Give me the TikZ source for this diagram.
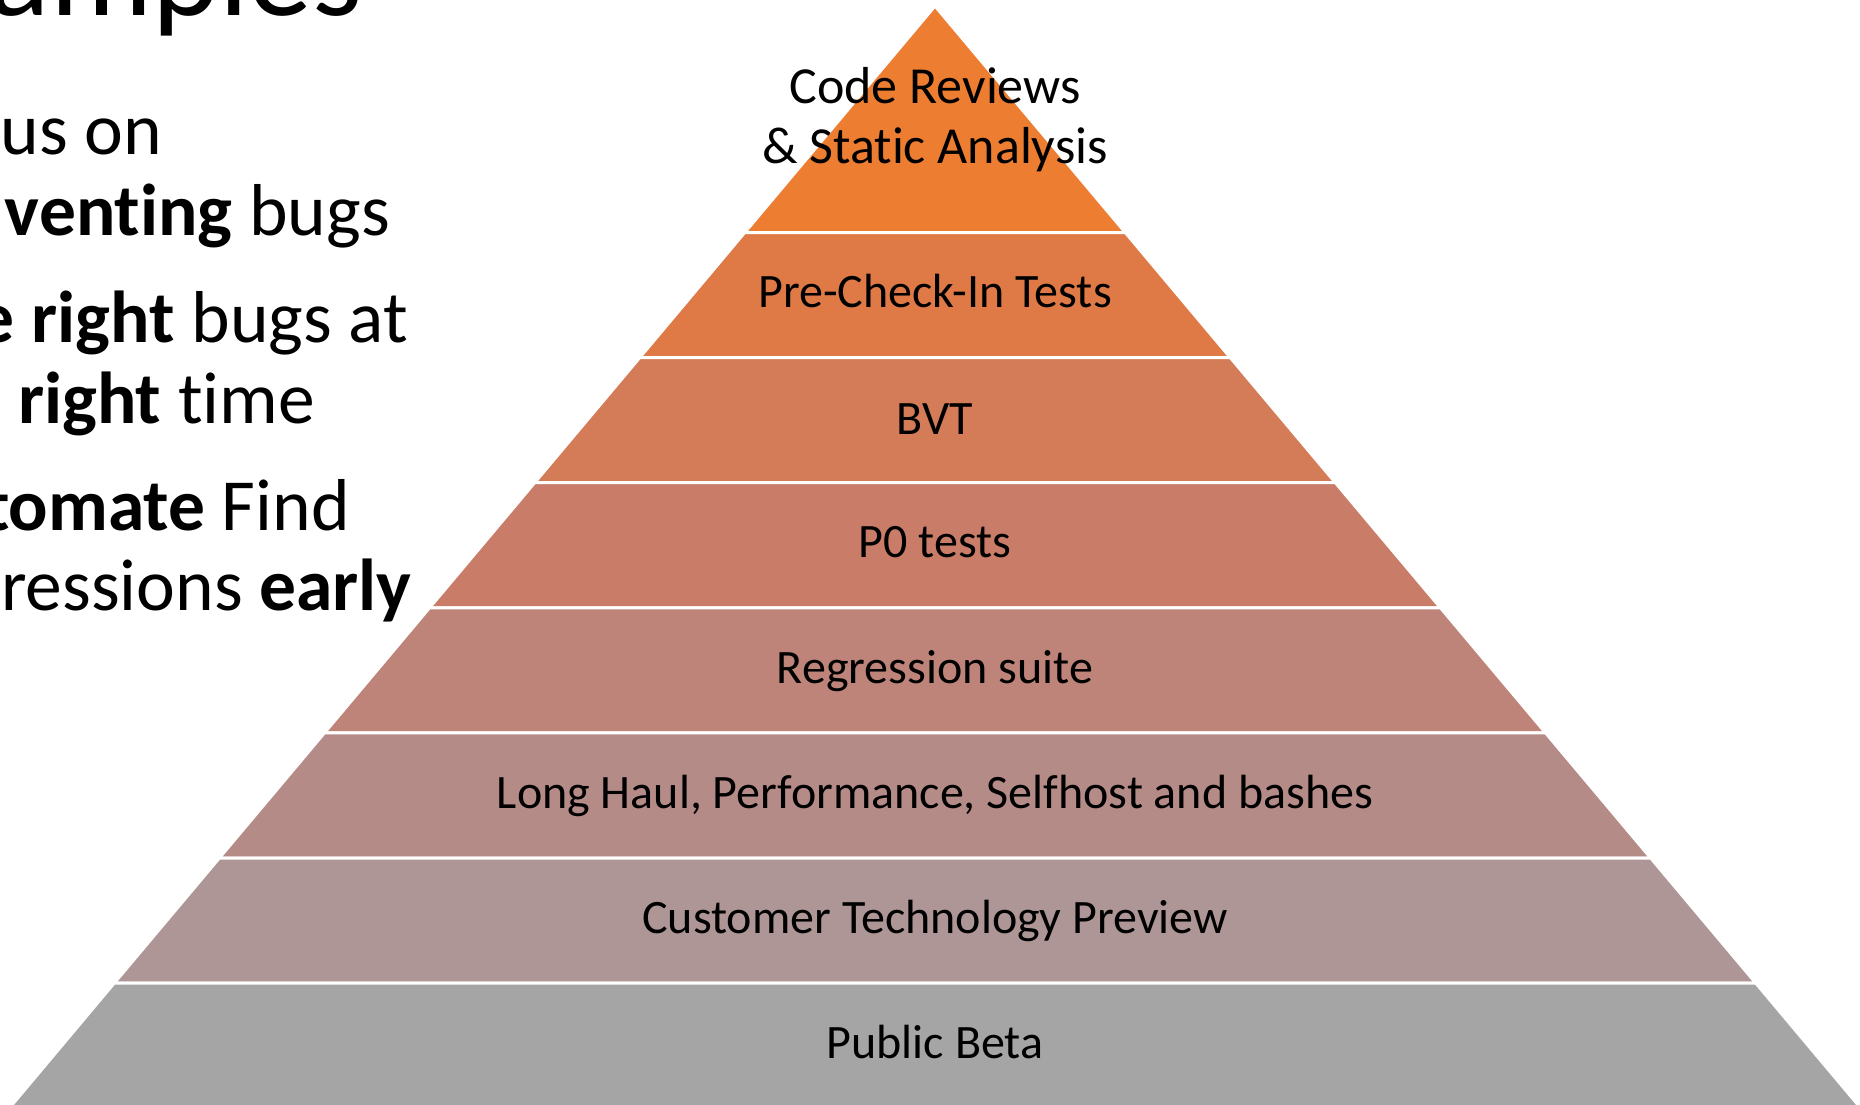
\documentclass[tikz,border=0pt]{standalone}
\usepackage{fontspec}
\setmainfont{Carlito}[Ligatures=NoCommon, RawFeature={-calt}]
\definecolor{lyrA}{HTML}{ED7D31}
\definecolor{lyrB}{HTML}{DF7A47}
\definecolor{lyrC}{HTML}{D47B58}
\definecolor{lyrD}{HTML}{C97D69}
\definecolor{lyrE}{HTML}{BE8479}
\definecolor{lyrF}{HTML}{B58B88}
\definecolor{lyrG}{HTML}{AD9695}
\definecolor{lyrH}{HTML}{A5A5A5}
\tikzset{
    layer/.style={draw=white, line width=3pt, line join=miter},
    layertext/.style={font=\fontsize{48}{60}\selectfont, inner sep=0pt, anchor=base, align=center},
    toptext/.style={layertext, font=\fontsize{52}{60}\selectfont},
    bullet/.style={font=\fontsize{73.5}{80}\selectfont, inner sep=0pt, anchor=base east},
    heading/.style={font=\fontsize{128}{130}\selectfont, inner sep=0pt, anchor=base east},
}

\begin{document}
\begin{tikzpicture}[x=1pt, y=-1pt]
    \useasboundingbox (0,0) rectangle (1860,1104);
    \clip (0,0) rectangle (1860,1104);

    % left side of the slide
    \node[heading] (title) at (363,15) {amples};
    \node[bullet] (b1) at (162,154) {us on};
    \node[bullet] (b2) at (390,235) {\textbf{venting} bugs};
    \node[bullet] (b3) at (408,342) {\textbf{e right} bugs at};
    \node[bullet] (b4) at (315,423) {\textbf{right} time};
    \node[bullet] (b5) at (350,530) {\textbf{tomate} Find};
    \node[bullet] (b6) at (412,610) {ressions \textbf{early}};

    % pyramid
    \path[layer, fill=lyrA] (935,6) -- (1125.3,232.5) -- (744.7,232.5) -- cycle;
    \path[layer, fill=lyrB] (744.7,232.5) -- (1125.3,232.5) -- (1230.3,357.6) -- (639.7,357.6) -- cycle;
    \path[layer, fill=lyrC] (639.7,357.6) -- (1230.3,357.6) -- (1335.4,482.7) -- (534.6,482.7) -- cycle;
    \path[layer, fill=lyrD] (534.6,482.7) -- (1335.4,482.7) -- (1440.5,607.8) -- (429.5,607.8) -- cycle;
    \path[layer, fill=lyrE] (429.5,607.8) -- (1440.5,607.8) -- (1545.6,732.9) -- (324.4,732.9) -- cycle;
    \path[layer, fill=lyrF] (324.4,732.9) -- (1545.6,732.9) -- (1650.7,858) -- (219.3,858) -- cycle;
    \path[layer, fill=lyrG] (219.3,858) -- (1650.7,858) -- (1755.8,983.1) -- (114.2,983.1) -- cycle;
    \path[layer, fill=lyrH] (114.2,983.1) -- (1755.8,983.1) -- (1860.8,1108.2) -- (9.2,1108.2) -- cycle;

    \node[toptext] (review) at (935,163) {Code Reviews\\\& Static Analysis};
    \node[layertext] (precheck) at (935,307) {Pre-Check-In Tests};
    \node[layertext] (bvt) at (935,434) {BVT};
    \node[layertext] (ptests) at (935,557) {P0 tests};
    \node[layertext] (regress) at (935,683) {Regression suite};
    \node[layertext] (longhaul) at (935,808) {Long Haul, Performance, Selfhost and bashes};
    \node[layertext] (preview) at (935,933) {Customer Technology Preview};
    \node[layertext] (beta) at (935,1058) {Public Beta};
\end{tikzpicture}
\end{document}
